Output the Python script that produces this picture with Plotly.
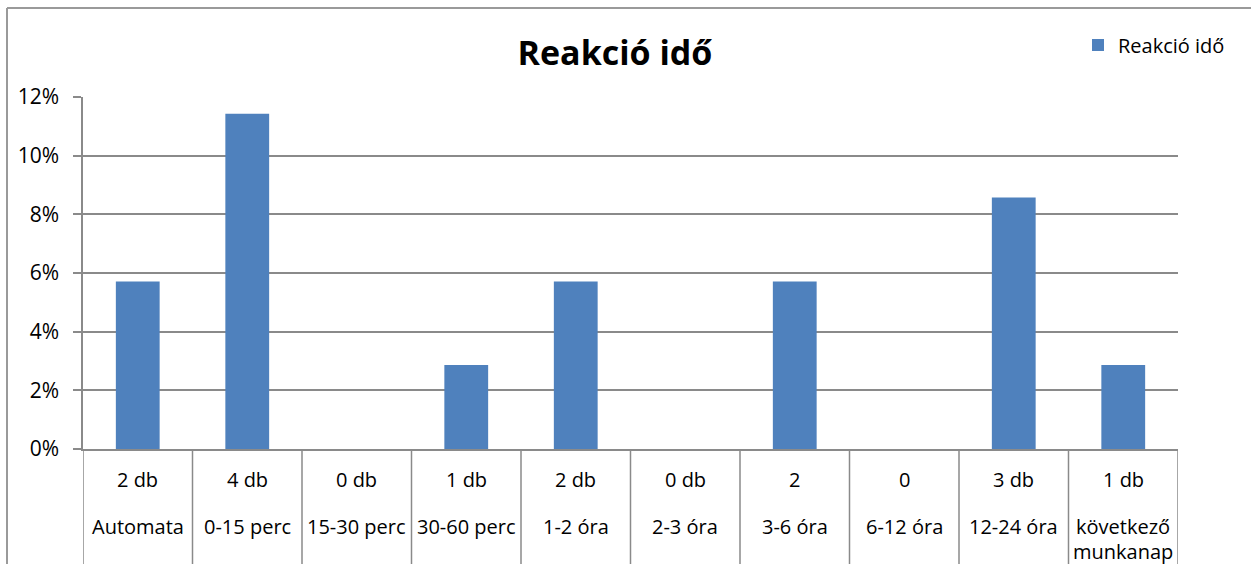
import plotly.graph_objects as go

# Reaction time distribution
counts = ["2 db", "4 db", "0 db", "1 db", "2 db", "0 db", "2", "0", "3 db", "1 db"]
categories = [["Automata"], ["0-15 perc"], ["15-30 perc"], ["30-60 perc"], ["1-2 óra"],
              ["2-3 óra"], ["3-6 óra"], ["6-12 óra"], ["12-24 óra"], ["következő", "munkanap"]]
shares = [0.0571, 0.1143, 0.0, 0.0286, 0.0571, 0.0, 0.0571, 0.0, 0.0857, 0.0286]
series_name = "Reakció idő"
y_ticks = [0, 0.02, 0.04, 0.06, 0.08, 0.10, 0.12]

W, H = 1251, 564
ML, MR, MT, MB = 83, 73, 97, 115
plot_h = H - MT - MB
plot_w = W - ML - MR

FONT = "Open Sans"
GRID = "#8a8a8a"
BAR = "#4F81BD"
TXT = "#000"


def py(px_from_axis):
    """Paper y for a pixel offset below the x axis (positive = down)."""
    return -px_from_axis / plot_h


xs = list(range(len(shares)))

fig = go.Figure()
fig.add_trace(go.Bar(x=xs, y=shares, name=series_name, marker=dict(color=BAR, line=dict(width=0)),
                     showlegend=True))

shapes = []
# table-style separators under the axis
for k in range(len(shares) + 1):
    shapes.append(dict(type="line", xref="x", yref="paper", x0=k - 0.5, x1=k - 0.5,
                       y0=0, y1=py(MB + 5), line=dict(color=GRID, width=1.5)))
# outer chart frame (left and top edges)
fx = (7 - ML) / plot_w
fy = (H - MB - 8) / plot_h
shapes.append(dict(type="line", xref="paper", yref="paper", x0=fx, x1=fx, y0=py(MB + 5), y1=fy,
                   line=dict(color="#9a9a9a", width=2)))
shapes.append(dict(type="line", xref="paper", yref="paper", x0=fx, x1=(W + 5 - ML) / plot_w,
                   y0=fy, y1=fy, line=dict(color="#9a9a9a", width=2)))

annotations = []
for i, (c, lines) in enumerate(zip(counts, categories)):
    annotations.append(dict(x=i, y=py(30), xref="x", yref="paper", text=c, showarrow=False,
                            xanchor="center", yanchor="middle",
                            font=dict(family=FONT, size=20, color=TXT)))
    for j, ln in enumerate(lines):
        annotations.append(dict(x=i, y=py(77 + 25 * j), xref="x", yref="paper", text=ln,
                                showarrow=False, xanchor="center", yanchor="middle",
                                font=dict(family=FONT, size=20, color=TXT)))

fig.update_layout(
    width=W, height=H,
    margin=dict(l=ML, r=MR, t=MT, b=MB, pad=0),
    paper_bgcolor="white", plot_bgcolor="white",
    title=dict(text="<b>Reakció idő</b>", x=615 / W, xanchor="center",
               y=1 - 53 / H, yanchor="middle",
               font=dict(family=FONT, size=34, color=TXT)),
    legend=dict(x=(1078 - ML) / plot_w, y=(H - MB - 45) / plot_h, xanchor="left", yanchor="middle",
                font=dict(family=FONT, size=20, color=TXT), bgcolor="rgba(0,0,0,0)",
                itemwidth=30, tracegroupgap=0),
    bargap=0.6,
    shapes=shapes,
    annotations=annotations,
    showlegend=True,
)
fig.update_xaxes(range=[-0.5, len(shares) - 0.5], showticklabels=False, ticks="",
                 showgrid=False, zeroline=False, showline=True, linecolor=GRID, linewidth=1.5,
                 fixedrange=True)
fig.update_yaxes(range=[0, 0.12], tickvals=y_ticks, tickformat=".0%", ticks="outside",
                 ticklen=8, tickcolor=GRID, tickwidth=1.5, ticklabelstandoff=10,
                 showgrid=True, gridcolor=GRID, gridwidth=1.5, zeroline=False,
                 showline=True, linecolor=GRID, linewidth=1.5,
                 tickfont=dict(family=FONT, size=21, color=TXT), fixedrange=True)

fig.write_html("out.html")
